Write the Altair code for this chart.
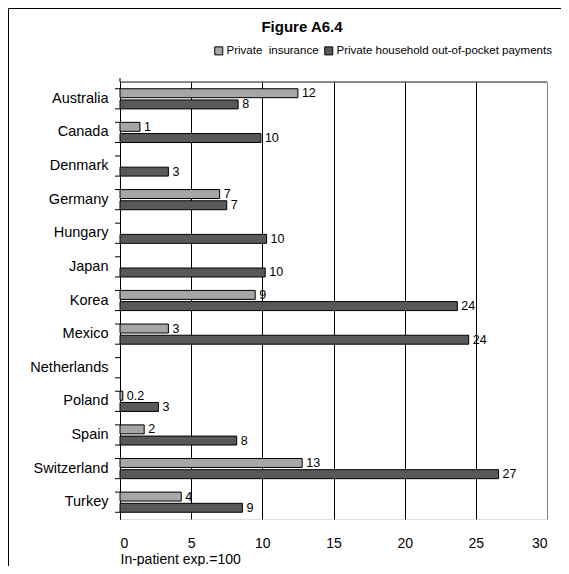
import altair as alt
import pandas as pd

countries = ["Australia", "Canada", "Denmark", "Germany", "Hungary", "Japan", "Korea",
             "Mexico", "Netherlands", "Poland", "Spain", "Switzerland", "Turkey"]
series_names = ["Private\u00a0 insurance", "Private household out-of-pocket payments"]
private_insurance = [12.5, 1.4, None, 7.0, None, None, 9.5, 3.4, None, 0.2, 1.7, 12.8, 4.3]
out_of_pocket = [8.3, 9.9, 3.4, 7.5, 10.3, 10.2, 23.7, 24.5, None, 2.7, 8.2, 26.6, 8.6]
ins_labels = ["12", "1", "", "7", "", "", "9", "3", "", "0.2", "2", "13", "4"]
oop_labels = ["8", "10", "3", "7", "10", "10", "24", "24", "", "3", "8", "27", "9"]
x_ticks = [0, 5, 10, 15, 20, 25, 30]

rows = []
for i, c in enumerate(countries):
    for s, vals, labs in ((series_names[0], private_insurance, ins_labels),
                          (series_names[1], out_of_pocket, oop_labels)):
        if vals[i] is not None:
            rows.append({"country": c, "series": s, "value": vals[i], "label": labs[i]})
df = pd.DataFrame(rows)
cdf = pd.DataFrame({"country": countries})

W, H = 427, 437
PL, PT, PR, PB = 112, 74, 14, 47
FONT = "Liberation Sans"

yscale = alt.Scale(paddingInner=0.4, paddingOuter=0.2)
yoff = alt.YOffset("series:N", sort=series_names, scale=alt.Scale(paddingInner=0.2))
xenc = alt.X("value:Q", scale=alt.Scale(domain=[0, 30], nice=False),
             axis=alt.Axis(values=x_ticks, title="In-patient exp.=100", titleAnchor="start",
                           titleAlign="left", titleX=0, titleY=44, titleBaseline="alphabetic",
                           titleFontWeight="normal", titleFontSize=14,
                           labelFontSize=14, labelPadding=17, ticks=False, domain=False,
                           gridColor={"condition": {"test": "datum.value === 30", "value": "#808080"},
                                      "value": "black"},
                           gridOpacity=1, grid=True, labelColor="black", titleColor="black"))

bars = alt.Chart(df).mark_bar(stroke="black", strokeWidth=1).encode(
    y=alt.Y("country:N", sort=countries, scale=yscale,
            axis=alt.Axis(title=None, labelFontSize=14.5, labelPadding=12, ticks=False,
                          domainColor="black", grid=False, labelColor="black")),
    yOffset=yoff,
    x=xenc,
    color=alt.Color("series:N", sort=series_names,
                    scale=alt.Scale(domain=series_names, range=["#a6a6a6", "#595959"]),
                    legend=alt.Legend(title=None, orient="none", legendX=93, legendY=-37,
                                      direction="horizontal", symbolType="square",
                                      symbolSize=64, symbolStrokeColor="black",
                                      symbolStrokeWidth=1, labelLimit=0,
                                      labelFontSize=11.5, labelOffset=2, columnPadding=3,
                                      labelColor="black")),
)

labels = alt.Chart(df).mark_text(align="left", baseline="middle", dx=4, fontSize=12.5,
                                 color="black").encode(
    y=alt.Y("country:N", sort=countries),
    yOffset=yoff,
    x=alt.X("value:Q"),
    text="label:N",
)

ticks_top = alt.Chart(cdf).mark_rule(color="black").encode(
    y=alt.Y("country:N", sort=countries, bandPosition=0),
    x=alt.value(-5), x2=alt.value(0))
ticks_bot = alt.Chart(cdf).mark_rule(color="black").encode(
    y=alt.Y("country:N", sort=countries, bandPosition=1),
    x=alt.value(-5), x2=alt.value(0))

top_line = alt.Chart(cdf.head(1)).mark_rule(color="#222222").encode(
    x=alt.value(0), x2=alt.value(W), y=alt.value(0))
left_ext = alt.Chart(cdf.head(1)).mark_rule(color="black").encode(
    x=alt.value(0), y=alt.value(-4), y2=alt.value(0))

frame_left = alt.Chart(cdf.head(1)).mark_rule(color="black").encode(
    x=alt.value(-PL + 0.5), y=alt.value(-PT + 0.5), y2=alt.value(H + PB))
frame_top = alt.Chart(cdf.head(1)).mark_rule(color="black").encode(
    x=alt.value(-PL + 0.5), x2=alt.value(W + PR), y=alt.value(-PT + 0.5))

title = alt.Chart(cdf.head(1)).mark_text(text="Figure A6.4", fontSize=15, fontWeight="bold",
                                         align="center", baseline="middle", color="black").encode(
    x=alt.value(182), y=alt.value(-55))

chart = alt.layer(bars, labels, ticks_top, ticks_bot, top_line, left_ext,
                  frame_left, frame_top, title).properties(
    width=W, height=H,
    autosize=alt.AutoSizeParams(type="none"),
    padding={"left": PL, "top": PT, "right": PR, "bottom": PB},
).configure_view(stroke="#808080", strokeWidth=1).configure(
    font=FONT
).configure_axis(labelFont=FONT, titleFont=FONT
).configure_legend(labelFont=FONT
).configure_text(font=FONT)

chart.save("out.html", embed_options={"renderer": "svg", "actions": False})
